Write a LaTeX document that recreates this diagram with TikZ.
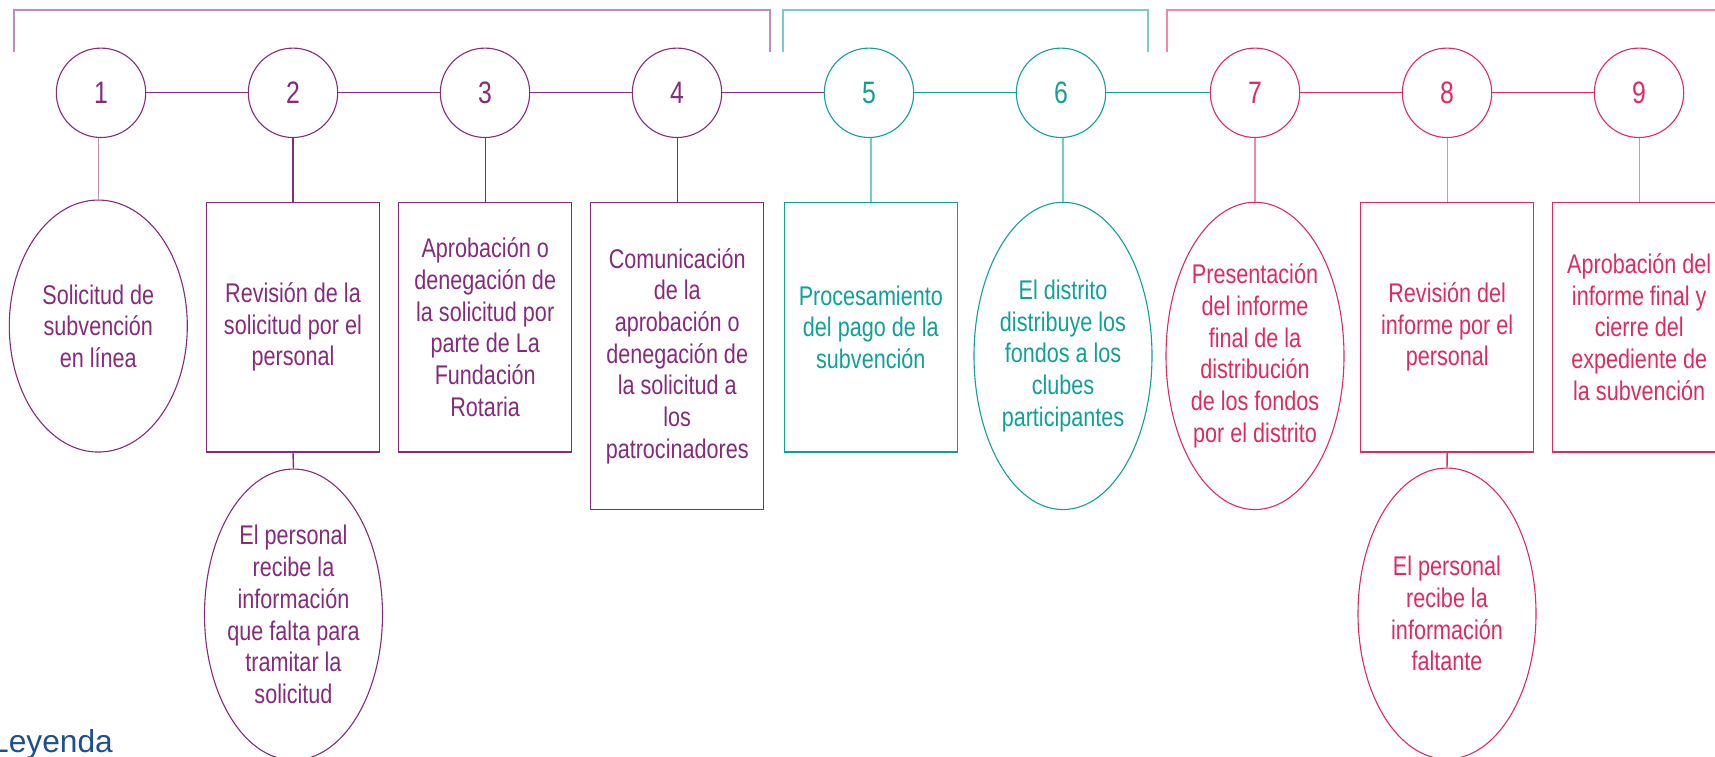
\documentclass[tikz,border=0pt]{standalone}
\usepackage{fontspec}
\setmainfont{Liberation Sans}[FakeStretch=0.8]
\newfontfamily\legfont{Liberation Sans}
\usetikzlibrary{shapes.geometric}
\definecolor{pur}{HTML}{862A7C}
\definecolor{purL}{HTML}{C08AB9}
\definecolor{tea}{HTML}{10A098}
\definecolor{teaL}{HTML}{76CDC8}
\definecolor{pnk}{HTML}{DF2A5F}
\definecolor{pnkL}{HTML}{EE8AA8}
\definecolor{legblue}{HTML}{1D4F91}
\tikzset{
  num/.style={circle, draw, minimum size=89.4pt, inner sep=0pt, line width=1.1pt, font=\fontsize{31}{31}\selectfont},
  stepbox/.style={rectangle, draw, minimum width=173pt, minimum height=249.6pt, inner sep=0pt, align=center, line width=1.3pt, anchor=north, font=\fontsize{27}{31.7}\selectfont},
  oval/.style={ellipse, draw, minimum width=178pt, inner sep=0pt, inner xsep=-5pt, align=center, line width=1.1pt, anchor=north, font=\fontsize{27}{31.7}\selectfont},
  link/.style={line width=1.1pt},
  drop/.style={line width=1.4pt},
  brk/.style={line width=1.5pt}
}
\begin{document}
\begin{tikzpicture}[x=1pt,y=-1pt]
\useasboundingbox (0,0) rectangle (1715,756);
\clip (0,0) rectangle (1715,756);
% brackets
\draw[brk, purL] (14,52) |- (770,10) -- (770,52);
\draw[brk, teaL] (783,52) |- (1148,10) -- (1148,52);
\draw[brk, pnkL] (1167,52) |- (1740,10);
% numbered circles
\node[num, draw=pur, text=pur] (c1) at (101,92.8) {1};
\node[num, draw=pur, text=pur] (c2) at (293,92.8) {2};
\node[num, draw=pur, text=pur] (c3) at (485,92.8) {3};
\node[num, draw=pur, text=pur] (c4) at (677,92.8) {4};
\node[num, draw=tea, text=tea] (c5) at (869,92.8) {5};
\node[num, draw=tea, text=tea] (c6) at (1061,92.8) {6};
\node[num, draw=pnk, text=pnk] (c7) at (1255,92.8) {7};
\node[num, draw=pnk, text=pnk] (c8) at (1447,92.8) {8};
\node[num, draw=pnk, text=pnk] (c9) at (1639,92.8) {9};
\draw[link, pur] (c1) -- (c2);
\draw[link, pur] (c2) -- (c3);
\draw[link, pur] (c3) -- (c4);
\draw[link, pur] (c4) -- (c5);
\draw[link, tea] (c5) -- (c6);
\draw[link, tea] (c6) -- (c7);
\draw[link, pnk] (c7) -- (c8);
\draw[link, pnk] (c8) -- (c9);
% step shapes
\node[oval, draw=pur, text=pur, minimum height=252pt] (s1) at (98.3,199.5) {Solicitud de\\subvención\\en línea};
\node[stepbox, draw=pur, text=pur] (s2) at (293,201.7) {Revisión de la\\solicitud por el\\personal};
\node[stepbox, draw=pur, text=pur] (s3) at (485.2,201.7) {Aprobación o\\denegación de\\la solicitud por\\parte de La\\Fundación\\Rotaria};
\node[stepbox, draw=pur, text=pur, minimum height=307.3pt] (s4) at (677.2,201.7) {Comunicación\\de la\\aprobación o\\denegación de\\la solicitud a\\los\\patrocinadores};
\node[stepbox, draw=tea, text=tea] (s5) at (870.8,201.7) {Procesamiento\\del pago de la\\subvención};
\node[oval, draw=tea, text=tea, minimum height=307.3pt] (s6) at (1063,201.7) {El distrito\\distribuye los\\fondos a los\\clubes\\participantes};
\node[oval, draw=pnk, text=pnk, minimum height=307.3pt] (s7) at (1255,201.7) {Presentación\\del informe\\final de la\\distribución\\de los fondos\\por el distrito};
\node[stepbox, draw=pnk, text=pnk] (s8) at (1447.2,201.7) {Revisión del\\informe por el\\personal};
\node[stepbox, draw=pnk, text=pnk] (s9) at (1639.2,201.7) {Aprobación del\\informe final y\\cierre del\\expediente de\\la subvención};
% secondary ovals
\node[oval, draw=pur, text=pur, minimum height=291pt] (s2a) at (293.5,468.5) {El personal\\recibe la\\información\\que falta para\\tramitar la\\solicitud};
\node[oval, draw=pnk, text=pnk, minimum height=291pt] (s8a) at (1447,467.5) {El personal\\recibe la\\información\\faltante};
% drops
\draw[drop, purL] (s1.north) -- (s1.north |- c1.south);
\draw[drop, pur] (s2.north) -- (s2.north |- c2.south);
\draw[drop, pur] (s3.north) -- (s3.north |- c3.south);
\draw[drop, pur] (s4.north) -- (s4.north |- c4.south);
\draw[drop, teaL] (s5.north) -- (s5.north |- c5.south);
\draw[drop, teaL] (s6.north) -- (s6.north |- c6.south);
\draw[drop, pnkL] (s7.north) -- (s7.north |- c7.south);
\draw[drop, pnkL] (s8.north) -- (s8.north |- c8.south);
\draw[drop, pnkL] (s9.north) -- (s9.north |- c9.south);
\draw[drop, pur] (s2.south) -- (s2a.north);
\draw[drop, pnk] (s8.south) -- (s8a.north);
% legend
\node[anchor=base west, inner sep=0pt, text=legblue, font=\legfont\fontsize{31.7}{32}\selectfont] (leg) at (-9,752.7) {Leyenda};
\end{tikzpicture}
\end{document}
